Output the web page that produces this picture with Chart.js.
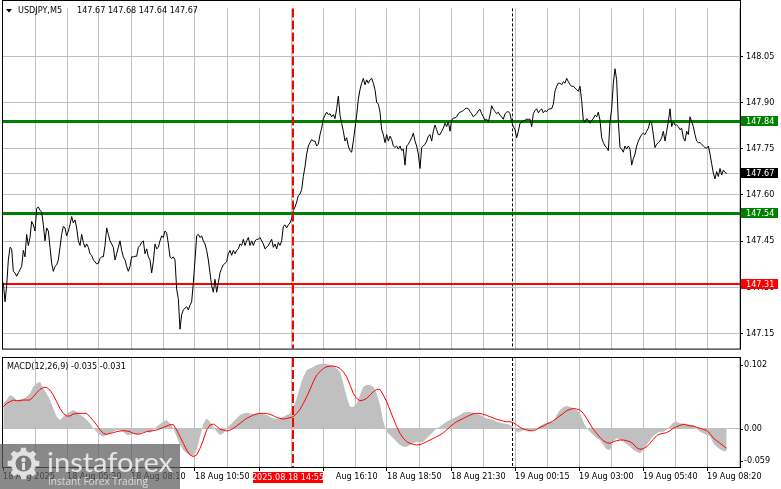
<!DOCTYPE html>
<html><head><meta charset="utf-8">
<script src="https://cdn.jsdelivr.net/npm/chart.js@4.4.1/dist/chart.umd.min.js"></script>
<style>
html,body{margin:0;padding:0;background:#fff;}
#wrap{position:relative;width:781px;height:489px;overflow:hidden;background:#fff;}
#c1{position:absolute;left:0;top:0;}
#c2{position:absolute;left:0;top:357px;}
</style></head><body>
<div id="wrap"><canvas id="c1" width="781" height="357"></canvas><canvas id="c2" width="781" height="132"></canvas></div>
<script>
// ---------------- DATA ----------------
const symbol = "USDJPY,M5";
const ohlcValues = ["147.67", "147.68", "147.64", "147.67"];

// close prices, one sample every 5/6 of a 5-minute bar
const closePrices = [
147.315,147.253,147.305,147.389,147.430,147.425,147.352,147.347,147.336,147.347,
147.357,147.368,147.420,147.399,147.472,147.436,147.462,147.514,147.503,147.483,
147.556,147.561,147.550,147.545,147.503,147.451,147.493,147.483,147.430,147.378,
147.352,147.368,147.373,147.389,147.430,147.472,147.498,147.493,147.467,147.483,
147.503,147.530,147.509,147.519,147.493,147.451,147.436,147.472,147.446,147.430,
147.441,147.430,147.409,147.404,147.389,147.383,147.376,147.378,147.394,147.399,
147.399,147.436,147.493,147.472,147.451,147.441,147.430,147.389,147.409,147.430,
147.451,147.420,147.399,147.389,147.368,147.352,147.368,147.399,147.399,147.401,
147.401,147.430,147.436,147.446,147.451,147.409,147.425,147.399,147.389,147.347,
147.383,147.441,147.425,147.430,147.451,147.467,147.462,147.483,147.477,147.441,
147.399,147.394,147.399,147.389,147.294,147.263,147.164,147.211,147.227,147.232,
147.237,147.227,147.242,147.253,147.315,147.389,147.467,147.472,147.462,147.467,
147.451,147.441,147.420,147.389,147.347,147.305,147.284,147.326,147.284,147.315,
147.347,147.362,147.373,147.378,147.383,147.409,147.420,147.404,147.420,147.409,
147.420,147.425,147.441,147.436,147.456,147.436,147.451,147.462,147.436,147.451,
147.436,147.451,147.456,147.456,147.462,147.451,147.441,147.425,147.430,147.436,
147.446,147.456,147.430,147.441,147.425,147.446,147.436,147.451,147.498,147.503,
147.493,147.503,147.509,147.524,147.550,147.561,147.577,147.598,147.603,147.618,
147.660,147.692,147.733,147.759,147.770,147.780,147.775,147.775,147.759,147.765,
147.796,147.817,147.848,147.859,147.869,147.861,147.864,147.854,147.861,147.848,
147.880,147.921,147.859,147.833,147.807,147.775,147.786,147.759,147.744,147.739,
147.775,147.817,147.859,147.911,147.942,147.963,147.979,147.958,147.974,147.963,
147.974,147.979,147.963,147.942,147.901,147.895,147.869,
147.812,147.796,147.770,147.796,147.775,147.791,147.780,147.759,147.754,147.759,
147.749,147.759,147.744,147.749,147.697,147.759,147.765,147.775,147.786,147.801,
147.775,147.759,147.733,147.686,147.754,147.759,147.765,147.775,147.791,147.796,
147.775,147.807,147.827,147.812,147.796,147.796,147.807,147.817,147.833,147.822,
147.838,147.807,147.843,147.850,147.850,147.854,147.864,147.869,147.871,147.874,
147.880,147.882,147.880,147.871,147.864,147.854,147.859,147.864,147.874,147.878,
147.864,147.854,147.843,147.846,147.838,147.859,147.890,147.878,147.871,147.864,
147.869,147.859,147.854,147.846,147.864,147.869,147.871,147.864,147.838,147.822,
147.812,147.786,147.807,147.833,147.838,147.840,147.843,147.846,147.846,147.846,
147.822,147.864,147.874,147.880,147.867,147.874,147.880,147.867,147.874,147.871,
147.878,147.880,147.880,147.895,147.937,147.953,147.963,147.963,147.958,147.968,
147.963,147.979,147.968,147.958,147.953,147.953,147.948,147.942,147.937,147.953,
147.906,147.843,147.838,147.848,147.843,147.833,147.843,147.848,147.859,147.854,
147.869,147.843,147.786,147.770,147.759,147.754,147.744,147.838,147.880,147.963,
148.010,147.974,147.838,147.754,147.749,147.739,147.759,147.749,147.759,147.749,
147.697,147.718,147.733,147.759,147.775,147.786,147.796,147.801,147.796,147.807,
147.817,147.840,147.833,147.796,147.754,147.765,147.770,147.775,147.786,147.807,
147.775,147.807,147.838,147.880,147.822,147.838,147.827,147.827,147.822,147.812,
147.817,147.786,147.775,147.807,147.796,147.854,147.838,147.822,147.796,147.775,
147.770,147.770,147.765,147.759,147.754,147.752,147.759,147.733,
147.702,147.671,147.652,147.676,147.660,147.686,147.665,147.681,147.673,147.670
];

// MACD main (histogram) and signal, one sample every 10/6 of a bar
const macdMain = [
0.0392,0.0444,0.0522,0.0496,0.0444,0.0454,0.0470,0.0496,0.0548,0.0652,
0.0704,0.0730,0.0626,0.0548,0.0444,0.0314,0.0184,0.0132,0.0184,0.0236,
0.0262,0.0288,0.0262,0.0210,0.0184,0.0132,0.0080,0.0003,-0.0049,-0.0101,
-0.0127,-0.0101,-0.0075,-0.0049,-0.0023,-0.0023,-0.0049,-0.0101,-0.0101,-0.0075,
-0.0101,-0.0075,-0.0049,-0.0049,-0.0065,-0.0023,0.0029,0.0070,0.0106,0.0132,
0.0080,0.0003,-0.0127,-0.0257,-0.0335,-0.0387,-0.0413,-0.0428,-0.0335,-0.0127,
0.0080,0.0158,0.0106,0.0029,-0.0049,-0.0101,-0.0075,0.0003,0.0055,0.0106,
0.0158,0.0210,0.0236,0.0247,0.0236,0.0226,0.0236,0.0236,0.0226,0.0210,
0.0184,0.0158,0.0158,0.0158,0.0184,0.0210,0.0236,0.0340,0.0470,0.0652,
0.0807,0.0911,0.0937,0.0963,0.0989,0.1005,0.1015,0.1005,0.0989,0.0974,
0.0937,0.0885,0.0704,0.0496,0.0340,0.0340,0.0392,0.0522,0.0652,0.0678,
0.0678,0.0652,0.0548,0.0366,
0.0106,-0.0049,-0.0101,-0.0153,-0.0205,-0.0257,-0.0283,-0.0283,-0.0257,-0.0231,
-0.0205,-0.0221,-0.0205,-0.0153,-0.0101,-0.0049,0.0003,0.0029,0.0070,0.0106,
0.0132,0.0158,0.0184,0.0210,0.0247,0.0257,0.0257,0.0247,0.0236,0.0210,
0.0184,0.0158,0.0143,0.0132,0.0106,0.0091,0.0080,0.0070,0.0055,0.0018,
-0.0049,-0.0049,-0.0023,-0.0023,-0.0034,-0.0023,0.0003,0.0039,0.0070,0.0091,
0.0106,0.0106,0.0210,0.0288,0.0330,0.0350,0.0340,0.0314,0.0288,0.0236,
0.0106,0.0003,-0.0049,-0.0101,-0.0153,-0.0179,-0.0257,-0.0325,-0.0335,-0.0200,
-0.0150,-0.0180,-0.0205,-0.0240,-0.0283,-0.0335,-0.0361,-0.0387,-0.0335,-0.0257,
-0.0179,-0.0117,-0.0075,-0.0049,-0.0049,-0.0023,0.0039,0.0091,0.0106,0.0080,
0.0080,0.0070,0.0055,0.0055,0.0003,-0.0049,-0.0075,-0.0101,-0.0117,
-0.0231,-0.0283,-0.0325,-0.0350,-0.0350
];
const macdSignal = [
0.0340,0.0392,0.0418,0.0444,0.0434,0.0434,0.0444,0.0444,0.0444,0.0496,
0.0558,0.0610,0.0641,0.0641,0.0600,0.0522,0.0418,0.0314,0.0236,0.0195,
0.0195,0.0226,0.0236,0.0236,0.0236,0.0236,0.0184,0.0122,0.0055,-0.0023,
-0.0075,-0.0091,-0.0075,-0.0065,-0.0049,-0.0039,-0.0034,-0.0039,-0.0049,-0.0075,
-0.0086,-0.0086,-0.0065,-0.0049,-0.0039,-0.0034,-0.0023,-0.0003,0.0018,0.0039,
0.0060,0.0060,-0.0023,-0.0127,-0.0231,-0.0335,-0.0413,-0.0439,-0.0413,-0.0309,
-0.0179,-0.0023,0.0055,0.0070,0.0039,-0.0013,-0.0023,-0.0039,-0.0023,0.0003,
0.0039,0.0080,0.0122,0.0158,0.0184,0.0210,0.0226,0.0236,0.0236,0.0236,
0.0221,0.0200,0.0174,0.0158,0.0148,0.0158,0.0169,0.0184,0.0236,0.0299,
0.0392,0.0496,0.0610,0.0730,0.0834,0.0885,0.0937,0.0963,0.0974,0.0974,
0.0963,0.0937,0.0885,0.0807,0.0678,0.0548,0.0470,0.0434,0.0444,0.0470,
0.0522,0.0574,0.0610,0.0610,
0.0522,0.0418,0.0288,0.0158,0.0029,-0.0075,-0.0153,-0.0205,-0.0231,-0.0247,
-0.0257,-0.0252,-0.0231,-0.0205,-0.0179,-0.0153,-0.0127,-0.0101,-0.0065,-0.0023,
0.0029,0.0070,0.0106,0.0132,0.0158,0.0184,0.0210,0.0231,0.0236,0.0236,
0.0221,0.0205,0.0184,0.0164,0.0143,0.0132,0.0117,0.0106,0.0106,0.0091,
0.0055,0.0018,-0.0008,-0.0023,-0.0034,-0.0034,-0.0013,0.0018,0.0039,0.0070,
0.0091,0.0122,0.0158,0.0200,0.0236,0.0278,0.0299,0.0314,0.0304,0.0288,
0.0236,0.0158,0.0070,-0.0013,-0.0075,-0.0138,-0.0190,-0.0221,-0.0231,-0.0205,
-0.0190,-0.0179,-0.0179,-0.0190,-0.0205,-0.0241,-0.0299,-0.0325,-0.0314,-0.0283,
-0.0231,-0.0169,-0.0112,-0.0086,-0.0075,-0.0065,-0.0034,0.0003,0.0029,0.0049,
0.0065,0.0055,0.0039,0.0039,0.0018,0.0003,-0.0013,-0.0030,-0.0080,
-0.0150,-0.0190,-0.0230,-0.0270,-0.0310
];
const macdTitle = "MACD(12,26,9)";
const macdCurrent = ["-0.035", "-0.031"];

const priceTicks = [148.05, 147.90, 147.75, 147.60, 147.45, 147.30, 147.15];
const macdTicks = [0.102, 0.00, -0.059];
const macdTickLabels = ["0.102", "0.00", "-0.059"];
const greenLevels = [147.84, 147.54];
const redLevels = [147.31];
const lastPrice = 147.67;

const timeLabels = ["18 Aug 2025","18 Aug 05:30","18 Aug 08:10","18 Aug 10:50","18 Aug 13:30","18 Aug 16:10",
                    "18 Aug 18:50","18 Aug 21:30","19 Aug 00:15","19 Aug 03:00","19 Aug 05:40","19 Aug 08:20"];
const timeLabelBars = [0,32,64,96,128,160,192,224,256,288,320,352];
const gridStepBars = 16;
const markerBar = 145, markerLabel = "2025.08.18 14:55";
const daySeparatorBar = 254.3;
const visibleBars = 368.5;
const priceStartBar = 1/6, priceStepBars = 5/6;
const macdStartBar = 1/6, macdStepBars = 10/6;

// ---------------- RENDER ----------------
const F = "'DejaVu Sans Condensed','DejaVu Sans',sans-serif";
const priceData = closePrices.map((p,i)=>({x: priceStartBar + i*priceStepBars, y: p}));
const macdData = macdMain.map((v,i)=>({x: macdStartBar + i*macdStepBars, y: v}));
const signalData = macdSignal.map((v,i)=>({x: macdStartBar + i*macdStepBars, y: v}));

function hline(ctx, x1, x2, y, color, w, dash){
  ctx.save(); ctx.strokeStyle=color; ctx.lineWidth=w; ctx.setLineDash(dash||[]);
  ctx.beginPath(); ctx.moveTo(x1,y); ctx.lineTo(x2,y); ctx.stroke(); ctx.restore();
}
function vline(ctx, x, y1, y2, color, w, dash){
  ctx.save(); ctx.strokeStyle=color; ctx.lineWidth=w; ctx.setLineDash(dash||[]);
  ctx.beginPath(); ctx.moveTo(x,y1); ctx.lineTo(x,y2); ctx.stroke(); ctx.restore();
}
function crisp(v, w){ return (w%2===1) ? Math.round(v)+0.5 : Math.round(v); }

function xScale(showLabels){
  return {
    type:'linear', min:0, max:visibleBars, position:'bottom',
    afterBuildTicks: s => { const t=[]; for(let v=0; v<=visibleBars; v+=gridStepBars) t.push({value:v}); s.ticks=t; },
    afterFit: s => { s.height = showLabels ? 22 : 0; },
    grid:{
      color: c => (c.tick && c.tick.value===0) ? 'rgba(0,0,0,0)' : '#c0c0c0',
      lineWidth:1, borderDash:[3,3], drawTicks: showLabels, tickLength:4, tickWidth:1, tickBorderDash:[],
      tickColor: c => (c.tick && timeLabelBars.includes(c.tick.value)) ? '#000' : 'rgba(0,0,0,0)'
    },
    border:{display:false},
    ticks:{ display: showLabels, autoSkip:false, maxRotation:0, minRotation:0, align:'start', padding:0,
      color:'#000', font:{family:F, size:9},
      callback: v => { const i = timeLabelBars.indexOf(v); return i>=0 ? timeLabels[i] : ''; } }
  };
}

function markerLines(chart){
  const {ctx, chartArea:a, scales:{x}} = chart;
  vline(ctx, crisp(x.getPixelForValue(daySeparatorBar),1), a.top, a.bottom, '#000000', 1, [3,2]);
  vline(ctx, crisp(x.getPixelForValue(markerBar),2), a.top, a.bottom, '#ff0000', 2, [9,3]);
}

const mainDecor = {
  id:'mainDecor',
  beforeDatasetsDraw(chart){
    const {ctx, chartArea:a, scales:{y}} = chart;
    hline(ctx, a.left, a.right, crisp(y.getPixelForValue(lastPrice),1), '#c0c0c0', 1);
    greenLevels.forEach(v => hline(ctx, a.left, a.right, crisp(y.getPixelForValue(v),3), '#008000', 3));
    redLevels.forEach(v => hline(ctx, a.left, a.right, crisp(y.getPixelForValue(v),2), '#ff0000', 2));
  },
  afterDatasetsDraw(chart){ markerLines(chart); },
  afterDraw(chart){
    const {ctx, chartArea:a, scales:{y}} = chart;
    ctx.save();
    ctx.strokeStyle='#000'; ctx.lineWidth=1;
    ctx.strokeRect(2.5, 0.5, a.right-2, a.bottom);
    ctx.font = `9px ${F}`; ctx.textBaseline='middle'; ctx.textAlign='left';
    const box = (v, bg) => {
      const py = Math.round(y.getPixelForValue(v));
      ctx.fillStyle=bg; ctx.fillRect(a.right+1, py-5, 37, 10);
      ctx.fillStyle='#fff'; ctx.fillText(v.toFixed(2), a.right+6, py+0.5);
    };
    greenLevels.forEach(v=>box(v,'#008000'));
    redLevels.forEach(v=>box(v,'#ff0000'));
    box(lastPrice,'#000');
    ctx.fillStyle='#000';
    ctx.beginPath(); ctx.moveTo(6,9); ctx.lineTo(12,9); ctx.lineTo(9,12.5); ctx.closePath(); ctx.fill();
    ctx.fillText(symbol, 18, 11);
    ctx.fillText(ohlcValues.join(' '), 77, 11);
    ctx.restore();
  }
};

const macdDecor = {
  id:'macdDecor',
  afterDatasetsDraw(chart){ markerLines(chart); },
  afterDraw(chart){
    const {ctx, chartArea:a, scales:{x,y}} = chart;
    ctx.save();
    ctx.strokeStyle='#000'; ctx.lineWidth=1;
    ctx.strokeRect(2.5, 0.5, a.right-2, a.bottom);
    ctx.font = `9px ${F}`; ctx.textBaseline='middle'; ctx.textAlign='left'; ctx.fillStyle='#000';
    ctx.fillText(`${macdTitle} ${macdCurrent.join(' ')}`, 7, 9.5);
    macdTicks.forEach((v,i)=>{
      let py = y.getPixelForValue(v);
      py = Math.min(Math.max(py, a.top+7), a.bottom-6);
      ctx.fillText(macdTickLabels[i], a.right+4, py);
      hline(ctx, a.right, a.right+3, crisp(py,1), '#000', 1);
    });
    const px = Math.round(x.getPixelForValue(markerBar));
    ctx.fillStyle='#fff'; ctx.fillRect(px-40, a.bottom+4, 82, 16);
    ctx.fillStyle='#ff0000'; ctx.fillRect(px-40, a.bottom+5, 70, 11);
    ctx.fillStyle='#fff'; ctx.textAlign='center'; ctx.fillText(markerLabel, px-5, a.bottom+10.5);
    // watermark
    ctx.fillStyle='rgba(92,92,92,0.72)'; ctx.fillRect(0, 87, 180, 45);
    const cx=23.5, cy=106.5;
    ctx.fillStyle='rgba(235,235,235,0.9)';
    ctx.beginPath();
    const n=8;
    for(let i=0;i<n;i++){
      const ang=i*2*Math.PI/n, w=Math.PI/n;
      const pts=[[12.5,ang-w*0.62],[16,ang-w*0.38],[16,ang+w*0.38],[12.5,ang+w*0.62]];
      pts.forEach(([r,t],k)=>{ const X=cx+r*Math.cos(t), Y=cy+r*Math.sin(t); (i===0&&k===0)?ctx.moveTo(X,Y):ctx.lineTo(X,Y); });
    }
    ctx.closePath(); ctx.fill();
    ctx.fillStyle='#7a7a7a'; ctx.beginPath(); ctx.arc(cx,cy,8,0,Math.PI*2); ctx.fill();
    ctx.fillStyle='rgba(235,235,235,0.9)';
    ctx.beginPath(); ctx.arc(cx,cy-3.5,2.2,0,Math.PI*2); ctx.fill();
    ctx.fillRect(cx-1.5, cy-0.5, 3, 7);
    ctx.textAlign='left'; ctx.textBaseline='alphabetic';
    ctx.font = "26px Lato, 'Open Sans', sans-serif";
    let w = ctx.measureText('instaforex').width;
    ctx.save(); ctx.translate(47, 115); ctx.scale(126/w, 1);
    ctx.fillStyle='rgba(238,238,238,0.92)'; ctx.fillText('instaforex', 0, 0); ctx.restore();
    ctx.font = "11px 'Open Sans', sans-serif";
    w = ctx.measureText('Instant Forex Trading').width;
    ctx.save(); ctx.translate(48, 127.5); ctx.scale(100/w, 1);
    ctx.fillStyle='rgba(230,230,230,0.88)'; ctx.fillText('Instant Forex Trading', 0, 0); ctx.restore();
    ctx.restore();
  }
};

const common = { responsive:false, animation:false, devicePixelRatio:1, events:[],
  plugins:{legend:{display:false}, tooltip:{enabled:false}} };

new Chart(document.getElementById('c1'), {
  type:'line',
  data:{ datasets:[{ data: priceData, borderColor:'#000', borderWidth:1, pointRadius:0, tension:0, fill:false }] },
  options:{ ...common, parsing:false,
    layout:{padding:{left:3, top:1, right:0, bottom:2}},
    scales:{
      x: xScale(false),
      y: { type:'linear', position:'right', min:147.101, max:148.206,
        afterBuildTicks: s => { s.ticks = priceTicks.map(v=>({value:v})); },
        afterFit: s => { s.width = 41; },
        grid:{ color:'#c0c0c0', borderDash:[3,3], drawTicks:true, tickLength:3, tickColor:'#000', tickBorderDash:[] },
        border:{ display:true, color:'#000', width:1 },
        ticks:{ padding:3, color:'#000', font:{family:F, size:9}, callback: v => v.toFixed(2) } }
    } },
  plugins:[mainDecor]
});

new Chart(document.getElementById('c2'), {
  type:'line',
  data:{ datasets:[
    { data: signalData, borderColor:'#ff0000', borderWidth:1, pointRadius:0, tension:0, fill:false, order:0 },
    { data: macdData, borderColor:'#c0c0c0', borderWidth:0, backgroundColor:'#c0c0c0', pointRadius:0, tension:0, fill:'origin', order:1 }
  ] },
  options:{ ...common, parsing:false,
    layout:{padding:{left:3, top:1, right:0, bottom:0}},
    scales:{
      x: xScale(true),
      y: { type:'linear', position:'right', min:-0.060, max:0.110,
        afterBuildTicks: s => { s.ticks = [{value:0}]; },
        afterFit: s => { s.width = 41; },
        grid:{ color:'#c0c0c0', borderDash:[3,3], drawTicks:false },
        border:{ display:true, color:'#000', width:1 },
        ticks:{ display:false } }
    } },
  plugins:[macdDecor]
});
</script>
</body></html>
